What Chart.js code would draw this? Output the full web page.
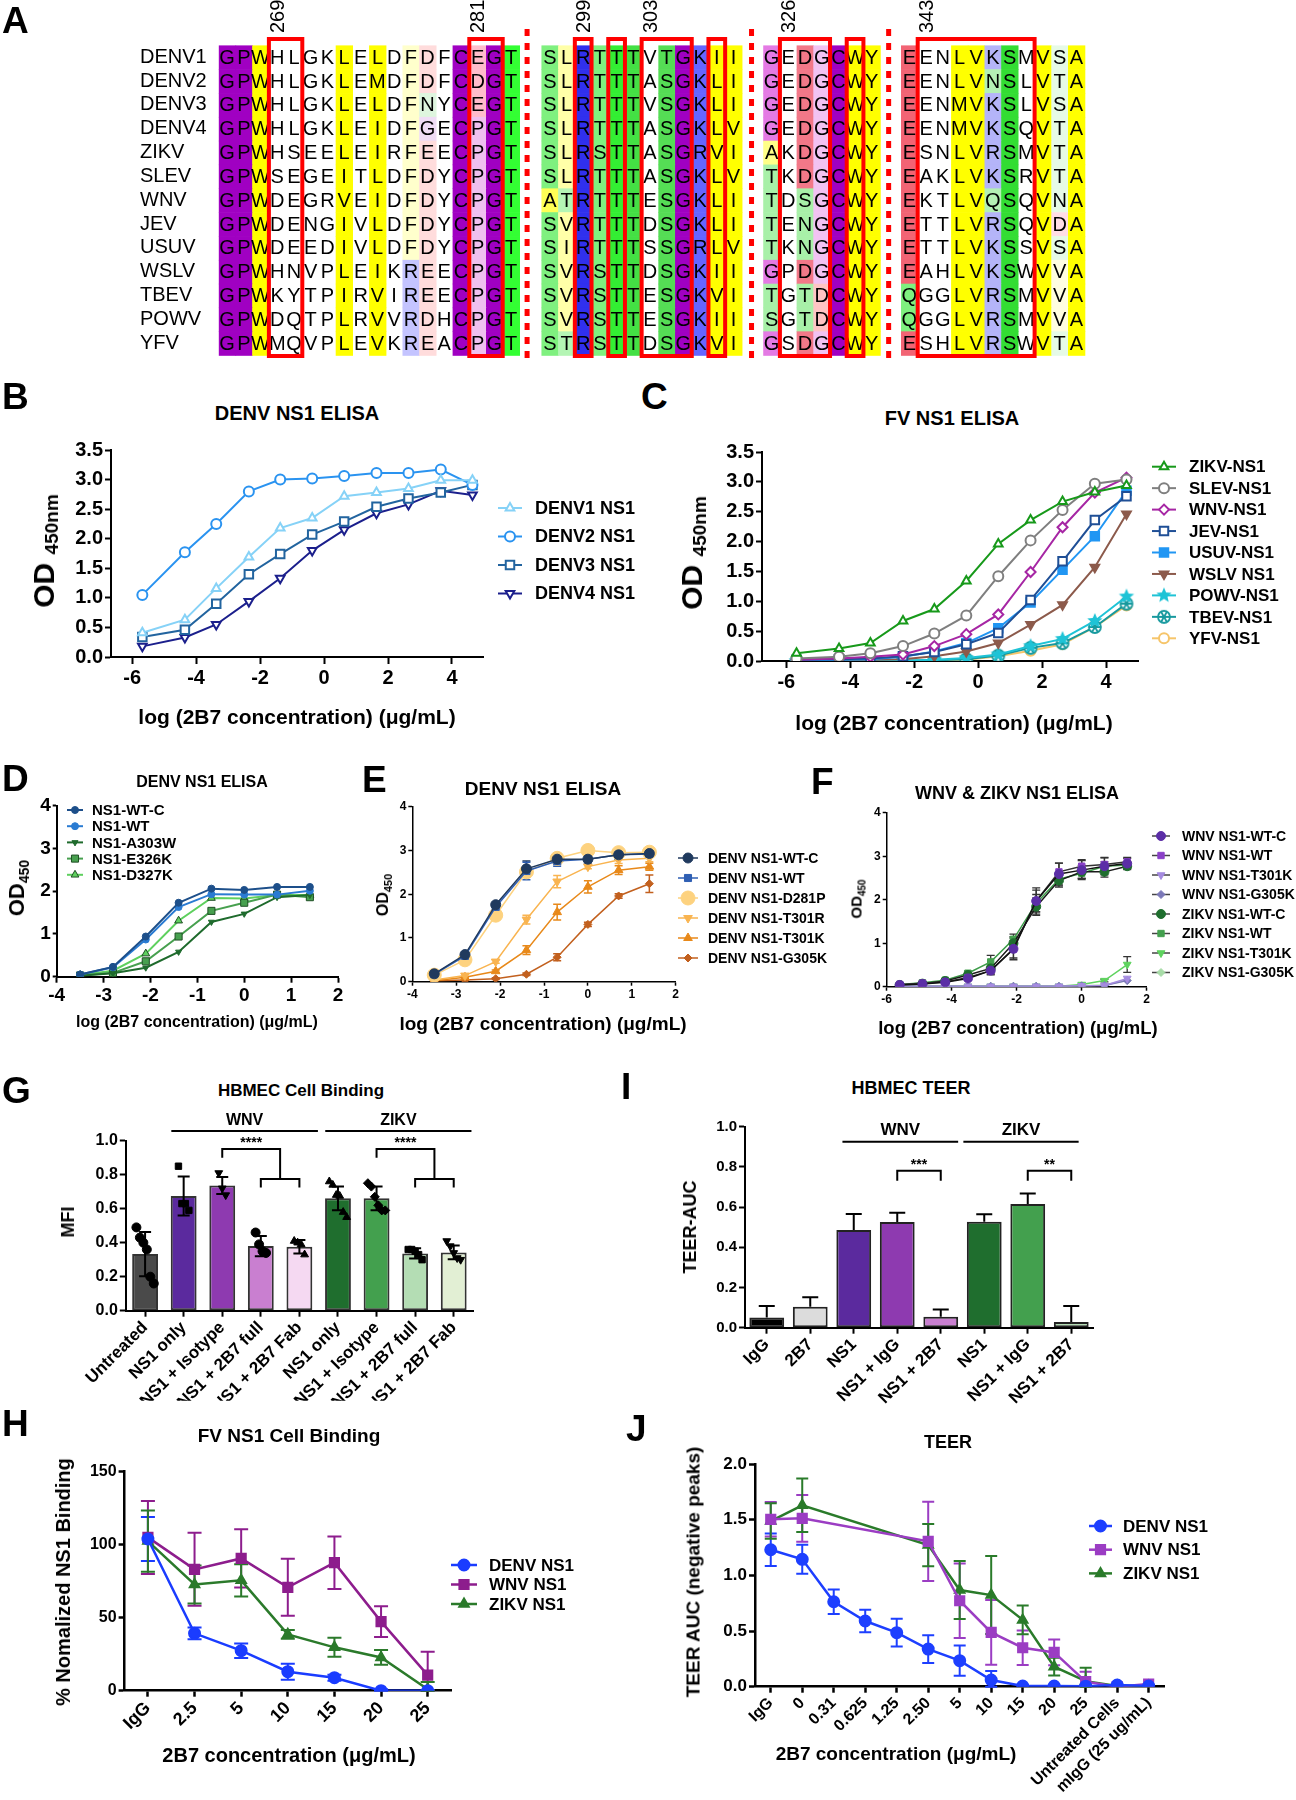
<!DOCTYPE html>
<html lang="en">
<head>
<meta charset="UTF-8">
<title>2B7 NS1 binding figure</title>
<script src="https://cdn.jsdelivr.net/npm/chart.js"></script>
<style>
  body { margin: 0; background: #fff; font-family: "Liberation Sans", Arial, sans-serif; }
  #page { position: relative; width: 1296px; height: 1800px; overflow: hidden; background: #fff; }
  canvas { position: absolute; }
  .t { position: absolute; white-space: nowrap; font-weight: bold; color: #000; line-height: 1; transform: translate(-50%, -50%); }
  .t.rot { transform: translate(-50%, -50%) rotate(-90deg); }
  .letter { position: absolute; font-size: 37px; font-weight: bold; line-height: 1; }
</style>
</head>
<body>
<div id="page"></div>
<script>
// ---------- A: alignment ----------
const alignNames = ['DENV1', 'DENV2', 'DENV3', 'DENV4', 'ZIKV', 'SLEV', 'WNV', 'JEV', 'USUV', 'WSLV', 'TBEV', 'POWV', 'YFV'];
const alignBlock1 = ['GPWHLGKLELDFDFCEGT', 'GPWHLGKLEMDFDFCDGT', 'GPWHLGKLELDFNYCEGT', 'GPWHLGKLEIDFGECPGT', 'GPWHSEELEIRFEECPGT',
  'GPWSEGEITLDFDYCPGT', 'GPWDEGRVEIDFDYCPGT', 'GPWDENGIVLDFDYCPGT', 'GPWDEEDIVLDFDYCPGT', 'GPWHNVPLEIKREECPGT',
  'GPWKYTPIRVIREECPGT', 'GPWDQTPLRVVRDHCPGT', 'GPWMQVPLEVKREACPGT'];
const alignBlock2 = ['SLRTTTVTGKII', 'SLRTTTASGKLI', 'SLRTTTVSGKLI', 'SLRTTTASGKLV', 'SLRSTTASGRVI', 'SLRTTTASGKLV',
  'ATRTTTESGKLI', 'SVRTTTDSGKLI', 'SIRTTTSSGRLV', 'SVRSTTDSGKII', 'SVRSTTESGKVI', 'SVRSTTESGKII', 'STRSTTDSGKVI'];
const alignBlock3 = ['GEDGCWY', 'GEDGCWY', 'GEDGCWY', 'GEDGCWY', 'AKDGCWY', 'TKDGCWY', 'TDSGCWY', 'TENGCWY', 'TKNGCWY',
  'GPDGCWY', 'TGTDCWY', 'SGTDCWY', 'GSDGCWY'];
const alignBlock4 = ['EENLVKSMVSA', 'EENLVNSLVTA', 'EENMVKSLVSA', 'EENMVKSQVTA', 'ESNLVRSMVTA', 'EAKLVKSRVTA', 'EKTLVQSQVNA',
  'ETTLVRSQVDA', 'ETTLVKSSVSA', 'EAHLVKSWVVA', 'QGGLVRSMVVA', 'QGGLVRSMVVA', 'ESHLVRSWVTA'];
const alignPositions = [269, 281, 299, 303, 326, 343];

// ---------- B / C: ELISA, log concentration ----------
const concLog = [-5.68, -4.35, -3.37, -2.35, -1.37, -0.37, 0.63, 1.64, 2.64, 3.65, 4.64];
const bDENV1 = [0.41, 0.63, 1.16, 1.69, 2.18, 2.35, 2.72, 2.78, 2.85, 2.99, 2.99];
const bDENV2 = [1.05, 1.77, 2.25, 2.80, 3.00, 3.02, 3.06, 3.11, 3.11, 3.17, 2.91];
const bDENV3 = [0.34, 0.46, 0.90, 1.40, 1.74, 2.07, 2.29, 2.54, 2.68, 2.78, 2.91];
const bDENV4 = [0.18, 0.33, 0.55, 0.94, 1.33, 1.80, 2.15, 2.43, 2.58, 2.81, 2.74];
const cZIKV = [0.13, 0.21, 0.30, 0.67, 0.87, 1.34, 1.96, 2.36, 2.67, 2.83, 2.94];
const cSLEV = [0.04, 0.07, 0.13, 0.25, 0.46, 0.76, 1.42, 2.02, 2.53, 2.97, 3.04];
const cWNV = [0.02, 0.04, 0.07, 0.11, 0.25, 0.45, 0.78, 1.49, 2.24, 2.82, 3.07];
const cJEV = [0.02, 0.03, 0.04, 0.08, 0.15, 0.28, 0.47, 1.02, 1.67, 2.36, 2.76];
const cUSUV = [0.01, 0.02, 0.03, 0.07, 0.16, 0.30, 0.55, 0.98, 1.53, 2.09, 2.85];
const cWSLV = [0.01, 0.02, 0.02, 0.03, 0.08, 0.16, 0.30, 0.61, 0.94, 1.57, 2.46];
const cPOWV = [0.00, 0.00, 0.00, 0.01, 0.02, 0.05, 0.11, 0.25, 0.37, 0.67, 1.08];
const cTBEV = [0.00, 0.00, 0.00, 0.00, 0.01, 0.03, 0.09, 0.22, 0.30, 0.57, 0.96];
const cYFV = [0.00, 0.00, 0.00, 0.00, 0.01, 0.02, 0.08, 0.17, 0.28, 0.57, 0.93];

// ---------- D / E: DENV mutants ----------
const mutLog = [-3.5, -2.8, -2.1, -1.4, -0.7, 0, 0.7, 1.4];
const dWTC = [0.05, 0.23, 0.94, 1.73, 2.06, 2.03, 2.10, 2.10];
const dWT = [0.05, 0.22, 0.87, 1.63, 1.93, 1.92, 1.92, 2.01];
const dA303W = [0.02, 0.08, 0.21, 0.58, 1.28, 1.47, 1.86, 1.91];
const dE326K = [0.03, 0.09, 0.36, 0.94, 1.54, 1.73, 1.92, 1.86];
const dD327K = [0.04, 0.14, 0.54, 1.31, 1.84, 1.83, 1.91, 1.91];
const eWTC = [0.18, 0.62, 1.76, 2.58, 2.80, 2.80, 2.90, 2.93];
const eWT = [0.17, 0.59, 1.71, 2.53, 2.76, 2.80, 2.90, 2.92];
const eD281P = [0.15, 0.50, 1.52, 2.51, 2.82, 3.00, 2.95, 2.96];
const eT301R = [0.04, 0.14, 0.46, 1.42, 2.29, 2.63, 2.78, 2.82];
const eT301K = [0.02, 0.10, 0.24, 0.72, 1.59, 2.17, 2.55, 2.63];
const eG305K = [0.02, 0.04, 0.07, 0.17, 0.56, 1.31, 1.96, 2.24];
const eWTCErr = [0.02, 0.05, 0.05, 0.18, 0.12, 0.10, 0.10, 0.05];
const eWTErr = [0.02, 0.05, 0.06, 0.20, 0.12, 0.10, 0.10, 0.05];
const eD281PErr = [0.02, 0.05, 0.05, 0.10, 0.08, 0.05, 0.10, 0.08];
const eT301RErr = [0.01, 0.03, 0.04, 0.10, 0.14, 0.05, 0.08, 0.08];
const eT301KErr = [0.01, 0.02, 0.03, 0.10, 0.18, 0.14, 0.10, 0.08];
const eG305KErr = [0.01, 0.01, 0.02, 0.03, 0.08, 0.05, 0.05, 0.20];

// ---------- F: WNV & ZIKV mutants ----------
const fLog = [-5.6, -4.9, -4.2, -3.5, -2.8, -2.1, -1.4, -0.7, 0, 0.7, 1.4];
const fWnvWTC = [0.04, 0.06, 0.10, 0.19, 0.37, 0.87, 1.97, 2.59, 2.68, 2.77, 2.83];
const fWnvWT = [0.05, 0.08, 0.11, 0.21, 0.37, 0.86, 1.97, 2.64, 2.77, 2.81, 2.87];
const fWnvT301K = [0.01, 0.01, 0.01, 0.01, 0.01, 0.01, 0.01, 0.01, 0.02, 0.03, 0.19];
const fWnvG305K = [0.01, 0.01, 0.01, 0.01, 0.01, 0.01, 0.01, 0.01, 0.02, 0.03, 0.14];
const fZikvWTC = [0.04, 0.07, 0.13, 0.27, 0.42, 1.00, 1.84, 2.44, 2.64, 2.64, 2.77];
const fZikvWT = [0.05, 0.09, 0.15, 0.31, 0.57, 1.09, 1.92, 2.47, 2.61, 2.77, 2.80];
const fZikvT301K = [0.01, 0.01, 0.01, 0.01, 0.01, 0.01, 0.01, 0.01, 0.05, 0.14, 0.51];
const fZikvG305K = [0.01, 0.01, 0.01, 0.01, 0.01, 0.01, 0.01, 0.01, 0.02, 0.04, 0.15];
const fWnvWTCErr = [0.02, 0.02, 0.03, 0.05, 0.10, 0.25, 0.30, 0.25, 0.22, 0.20, 0.12];
const fWnvWTErr = [0.02, 0.02, 0.03, 0.05, 0.08, 0.20, 0.25, 0.20, 0.15, 0.15, 0.10];
const fZikvWTCErr = [0.02, 0.03, 0.03, 0.05, 0.10, 0.15, 0.20, 0.15, 0.15, 0.12, 0.08];
const fZikvWTErr = [0.02, 0.03, 0.03, 0.05, 0.15, 0.12, 0.20, 0.15, 0.12, 0.10, 0.08];
const fZikvT301KErr = [0, 0, 0, 0, 0, 0, 0, 0, 0.02, 0.03, 0.18];

// ---------- G: HBMEC cell binding ----------
const gLabels = ['Untreated', 'NS1 only', 'NS1 + Isotype', 'NS1 + 2B7 full', 'NS1 + 2B7 Fab', 'NS1 only', 'NS1 + Isotype', 'NS1 + 2B7 full', 'NS1 + 2B7 Fab'];
const gMean = [0.333, 0.675, 0.737, 0.380, 0.376, 0.661, 0.661, 0.337, 0.343];
const gSD = [0.13, 0.115, 0.05, 0.06, 0.04, 0.07, 0.07, 0.03, 0.04];
const gPoints = [[0.49, 0.43, 0.40, 0.36, 0.20, 0.16], [0.85, 0.63, 0.63, 0.59], [0.81, 0.72, 0.68], [0.46, 0.39, 0.35, 0.34],
  [0.41, 0.40, 0.39, 0.33], [0.76, 0.74, 0.68, 0.675, 0.58, 0.55], [0.75, 0.73, 0.67, 0.62, 0.59, 0.59],
  [0.36, 0.36, 0.35, 0.33, 0.30], [0.41, 0.38, 0.34, 0.31, 0.30]];

// ---------- I: HBMEC TEER ----------
const iLabels = ['IgG', '2B7', 'NS1', 'NS1 + IgG', 'NS1 + 2B7', 'NS1', 'NS1 + IgG', 'NS1 + 2B7'];
const iMean = [0.051, 0.104, 0.486, 0.526, 0.055, 0.527, 0.615, 0.028];
const iErr = [0.057, 0.047, 0.080, 0.046, 0.036, 0.037, 0.053, 0.080];

// ---------- H: FV NS1 cell binding ----------
const hLabels = ['IgG', '2.5', '5', '10', '15', '20', '25'];
const hDENV = [103.9, 39.3, 27.4, 13.0, 8.9, 0, 0];
const hWNV = [105.0, 83.1, 90.6, 70.8, 87.7, 47.3, 10.7];
const hZIKV = [102.5, 72.8, 75.6, 38.6, 29.7, 22.8, 1.0];
const hDENVErr = [15, 4, 5, 5.5, 2, 1, 0.5];
const hWNVErr = [25, 25, 20, 19.5, 18, 10.5, 16];
const hZIKVErr = [21, 13, 11, 3, 6.5, 5, 5];

// ---------- J: TEER ----------
const jLabels = ['IgG', '0', '0.31', '0.625', '1.25', '2.50', '5', '10', '15', '20', '25', 'Untreated Cells', 'mIgG (25 ug/mL)'];
const jDENV = [1.23, 1.144, 0.763, 0.59, 0.485, 0.338, 0.234, 0.06, 0.006, 0.006, 0.005, 0.015, 0.006];
const jWNV = [1.503, 1.512, null, null, null, 1.305, 0.772, 0.488, 0.35, 0.308, 0.045, 0.0, 0.024];
const jZIKV = [1.488, 1.629, null, null, null, 1.272, 0.868, 0.823, 0.60, 0.18, 0.05, 0.006, 0.006];
const jDENVErr = [0.145, 0.13, 0.11, 0.10, 0.125, 0.125, 0.135, 0.08, 0, 0, 0, 0, 0];
const jWNVErr = [0.155, 0.21, 0, 0, 0, 0.355, 0.335, 0.29, 0.155, 0.115, 0.09, 0, 0];
const jZIKVErr = [0.16, 0.24, 0, 0, 0, 0.19, 0.26, 0.35, 0.13, 0.08, 0.12, 0, 0];

// ================= drawing =================
const page = document.getElementById('page');
const FAM = '"Liberation Sans", Arial, sans-serif';
Chart.defaults.font.family = FAM;
Chart.defaults.font.weight = 'bold';
Chart.defaults.color = '#000';
const font = (size, weight) => ({ size, weight: weight || 'bold', family: FAM });

function txt(x, y, html, size, rot) {
  const d = document.createElement('div');
  d.className = 't' + (rot ? ' rot' : '');
  d.style.left = x + 'px'; d.style.top = y + 'px'; d.style.fontSize = size + 'px';
  d.innerHTML = html;
  page.appendChild(d);
}
function letter(ch, x, y) {
  const d = document.createElement('div');
  d.className = 'letter'; d.style.left = x + 'px'; d.style.top = y + 'px'; d.textContent = ch;
  page.appendChild(d);
}

function mk(box, area, yW, xH, cfg) {
  const c = document.createElement('canvas');
  c.width = box[2]; c.height = box[3];
  c.style.left = box[0] + 'px'; c.style.top = box[1] + 'px';
  page.appendChild(c);
  const o = cfg.options;
  o.responsive = false; o.animation = false; o.devicePixelRatio = 1;
  o.layout = { padding: { left: area[0] - box[0] - yW, top: area[1] - box[1], right: box[0] + box[2] - area[2], bottom: box[1] + box[3] - area[3] - xH } };
  o.plugins = Object.assign({ legend: { display: false }, tooltip: { enabled: false } }, o.plugins || {});
  if (o.scales.x.display !== false) o.scales.x.afterFit = s => { s.height = xH; };
  o.scales.y.afterFit = s => { s.width = yW; };
  return new Chart(c, cfg);
}

// marker drawing shared by legends
function marker(ctx, ds, x, y) {
  ctx.fillStyle = ds.pointBackgroundColor;
  ctx.strokeStyle = ds.pointBorderColor;
  ctx.lineWidth = ds.pointBorderWidth;
  Chart.helpers.drawPoint(ctx, { pointStyle: ds.pointStyle, radius: ds.pointRadius, rotation: ds.pointRotation || 0, borderWidth: ds.pointBorderWidth }, x, y);
}

const lineLegend = {
  id: 'lineLegend',
  afterDraw(chart, args, o) {
    if (o.y0 === undefined) return;
    const ctx = chart.ctx, ox = chart.canvas.offsetLeft, oy = chart.canvas.offsetTop;
    ctx.save();
    ctx.textBaseline = 'middle'; ctx.textAlign = 'left';
    chart.data.datasets.forEach((ds, i) => {
      const y = o.y0 + i * o.dy - oy;
      ctx.strokeStyle = ds.legendLine || ds.borderColor; ctx.lineWidth = ds.borderWidth;
      ctx.beginPath(); ctx.moveTo(o.x0 - ox, y); ctx.lineTo(o.x1 - ox, y); ctx.stroke();
      marker(ctx, ds, (o.x0 + o.x1) / 2 - ox, y);
      ctx.fillStyle = '#000';
      ctx.font = 'bold ' + o.size + 'px ' + FAM;
      ctx.fillText(ds.label, o.xt - ox, y + 1);
    });
    ctx.restore();
  }
};

function drawErr(chart, meta) {
  const ds = chart.data.datasets[meta.index];
  const err = ds.errors, up = ds.errUp;
  if (!err && !up) return;
  const ys = chart.scales[meta.yAxisID], ctx = chart.ctx, cap = ds.capW || 5;
  ctx.save();
  ctx.strokeStyle = ds.errColor || ds.borderColor; ctx.lineWidth = ds.errWidth || 1.8;
  meta.data.forEach((el, i) => {
    const raw = ds.data[i];
    if (raw === null || raw === undefined) return;
    const v = typeof raw === 'object' ? raw.y : raw;
    const e = err ? err[i] : up[i];
    if (!e) return;
    const yt = ys.getPixelForValue(v + e);
    const yb = err ? ys.getPixelForValue(Math.max(v - e, ys.min)) : ys.getPixelForValue(v);
    ctx.beginPath();
    ctx.moveTo(el.x, yt); ctx.lineTo(el.x, yb);
    ctx.moveTo(el.x - cap, yt); ctx.lineTo(el.x + cap, yt);
    if (err) { ctx.moveTo(el.x - cap, yb); ctx.lineTo(el.x + cap, yb); }
    ctx.stroke();
  });
  ctx.restore();
}
const errorBars = {
  id: 'errorBars',
  beforeDatasetsDraw(chart) {
    chart.getSortedVisibleDatasetMetas().forEach(m => { if (m.type === 'line') drawErr(chart, m); });
  },
  afterDatasetDraw(chart, args) {
    if (args.meta.type === 'bar') drawErr(chart, args.meta);
  }
};

const brackets = {
  id: 'brackets',
  afterDraw(chart, args, o) {
    const xs = chart.scales.x, ys = chart.scales.y, ctx = chart.ctx;
    const X = v => xs.getPixelForValue(v), Y = v => ys.getPixelForValue(v);
    ctx.save();
    ctx.strokeStyle = '#000'; ctx.fillStyle = '#000'; ctx.lineWidth = 2;
    ctx.textAlign = 'center'; ctx.textBaseline = 'middle';
    (o.groups || []).forEach(g => {
      ctx.beginPath(); ctx.moveTo(X(g.x0), Y(g.y)); ctx.lineTo(X(g.x1), Y(g.y)); ctx.stroke();
      ctx.font = 'bold ' + o.gsize + 'px ' + FAM;
      ctx.fillText(g.text, X((g.x0 + g.x1) / 2), Y(g.ty));
    });
    (o.sig || []).forEach(s => {
      ctx.beginPath();
      if (s.b.length === 2) {
        const m = (s.b[0] + s.b[1]) / 2;
        ctx.moveTo(X(s.a), Y(s.drop)); ctx.lineTo(X(s.a), Y(s.top)); ctx.lineTo(X(m), Y(s.top)); ctx.lineTo(X(m), Y(s.mid));
        ctx.moveTo(X(s.b[0]), Y(s.drop2)); ctx.lineTo(X(s.b[0]), Y(s.mid)); ctx.lineTo(X(s.b[1]), Y(s.mid)); ctx.lineTo(X(s.b[1]), Y(s.drop2));
      } else {
        ctx.moveTo(X(s.a), Y(s.drop)); ctx.lineTo(X(s.a), Y(s.top)); ctx.lineTo(X(s.b[0]), Y(s.top)); ctx.lineTo(X(s.b[0]), Y(s.drop));
      }
      ctx.stroke();
      ctx.font = 'bold ' + o.ssize + 'px ' + FAM;
      ctx.fillText(s.text, X(s.tx), Y(s.ty));
    });
    ctx.restore();
  }
};

function axisBase(size, tickLen, width) {
  return {
    border: { display: true, color: '#000', width: width },
    grid: { display: true, offset: false, drawOnChartArea: false, drawTicks: true, tickLength: tickLen, tickWidth: width, tickColor: '#000' },
    ticks: { font: font(size), color: '#000', padding: 2 }
  };
}
function numX(min, max, vals, size, tickLen, width) {
  return Object.assign(axisBase(size, tickLen, width), { type: 'linear', min, max, afterBuildTicks: s => { s.ticks = vals.map(v => ({ value: v })); } });
}
function numY(min, max, step, digits, size, tickLen, width) {
  const a = axisBase(size, tickLen, width);
  a.ticks.stepSize = step;
  a.ticks.callback = v => Number(v).toFixed(digits);
  return Object.assign(a, { type: 'linear', min, max });
}
function catX(labels, size, tickLen, width) {
  const a = axisBase(size, tickLen, width);
  a.ticks.maxRotation = 45; a.ticks.minRotation = 45; a.ticks.autoSkip = false; a.ticks.padding = 1;
  return Object.assign(a, { type: 'category', labels, offset: true });
}
// index axis that is numeric, so bars and jittered dots share one scale
function idxX(labels, size, tickLen, width) {
  const a = catX(labels, size, tickLen, width);
  delete a.labels;
  a.type = 'linear'; a.offset = false; a.min = -0.5; a.max = labels.length - 0.5;
  a.afterBuildTicks = s => { s.ticks = labels.map((l, i) => ({ value: i })); };
  a.ticks.callback = v => labels[Math.round(v)];
  return a;
}
function ser(label, xs, ys, color, style, extra) {
  return Object.assign({
    label, data: xs ? xs.map((x, i) => ({ x, y: ys[i] })) : ys,
    borderColor: color, backgroundColor: color, borderWidth: 2, tension: 0, fill: false,
    pointStyle: style, pointRadius: 5, pointBorderWidth: 2, pointBackgroundColor: color, pointBorderColor: color
  }, extra || {});
}
const open = { pointBackgroundColor: '#fff' };

function starImage(color, r) {
  const c = document.createElement('canvas'); c.width = c.height = 2 * r + 2;
  const g = c.getContext('2d'); g.fillStyle = color; g.beginPath();
  for (let k = 0; k < 10; k++) {
    const rr = k % 2 ? r * 0.45 : r, a = -Math.PI / 2 + k * Math.PI / 5;
    g.lineTo(r + 1 + rr * Math.cos(a), r + 1 + rr * Math.sin(a));
  }
  g.closePath(); g.fill(); return c;
}
function crossCircleImage(color, r) {
  const c = document.createElement('canvas'); c.width = c.height = 2 * r + 4;
  const g = c.getContext('2d'); const m = r + 2; g.strokeStyle = color; g.lineWidth = 1.8;
  g.fillStyle = '#fff'; g.beginPath(); g.arc(m, m, r, 0, 2 * Math.PI); g.fill(); g.stroke();
  g.beginPath();
  for (let k = 0; k < 3; k++) { const a = k * Math.PI / 3; g.moveTo(m + r * Math.cos(a), m + r * Math.sin(a)); g.lineTo(m - r * Math.cos(a), m - r * Math.sin(a)); }
  g.stroke(); return c;
}

// ---------- Panel A ----------
const PUR = '#a000c2', YEL = '#ffff00';
const blockStart = [0, 19.32, 32.6, 40.85];
const blockColors = [
  [{ '*': PUR }, { '*': PUR }, { '*': YEL }, {}, {}, {}, {}, { '*': YEL }, {}, { '*': YEL }, {},
   { F: '#ffffcc', R: '#c4c4ff' }, { D: '#ffdcdc', E: '#ffdcdc', N: '#def5de', G: '#efdcf5' }, {}, { '*': PUR },
   { E: '#ffbccb', D: '#ffbccb', P: '#efc0ef' }, { '*': PUR }, { '*': '#33ff33' }],
  [{ S: '#7ff07f', A: '#ffff55' }, { L: '#ffffa8', I: '#ffffa8', V: '#ffffa8', T: '#b4f5b4' }, { '*': '#3030ee' }, { '*': '#7ff07f' },
   { '*': '#33ee33' }, { '*': '#44e044' }, {}, { '*': '#55dd55' }, { '*': PUR }, { '*': '#6565ff' }, { '*': YEL }, { '*': YEL }],
  [{ G: '#e47ae4', A: '#ffff88', T: '#a8f0a8', S: '#a8f0a8' }, {}, { D: '#f27888', S: '#a8f0a8', N: '#a8f0a8', T: '#a8f0a8' },
   { G: '#f2c2f2', D: '#ffc4c4' }, { '*': PUR }, { '*': YEL }, { '*': YEL }],
  [{ E: '#f26474', Q: '#7ff07f' }, {}, {}, { '*': YEL }, { '*': YEL }, { K: '#b4b4f8', R: '#b4b4f8', N: '#b4f0b4', Q: '#b4f0b4' },
   { '*': '#33dd33' }, {}, { '*': YEL }, { S: '#e6fae6', T: '#e6fae6', N: '#e6fae6', D: '#ffdde6', V: '#fffde0' }, { '*': YEL }]
];
const redBoxes = [[0, 3, 4], [0, 15, 16], [1, 2, 2], [1, 4, 4], [1, 6, 8], [1, 10, 10], [2, 1, 3], [2, 5, 5], [3, 1, 7]];
const labelCols = [[0, 3], [0, 15], [1, 2], [1, 6], [2, 1], [3, 1]];
const dotted = [18.46, 31.9, 40.11];

const alignPlugin = {
  id: 'alignment',
  afterDraw(chart) {
    const xs = chart.scales.x, ys = chart.scales.y, ctx = chart.ctx;
    const half = Math.abs(ys.getPixelForValue(1) - ys.getPixelForValue(0)) / 2;
    const blocks = [alignBlock1, alignBlock2, alignBlock3, alignBlock4];
    ctx.save();
    blocks.forEach((block, b) => block.forEach((seq, r) => {
      const yc = ys.getPixelForValue(r);
      for (let c = 0; c < seq.length; c++) {
        const x0 = xs.getPixelForValue(blockStart[b] + c), x1 = xs.getPixelForValue(blockStart[b] + c + 1);
        const rule = blockColors[b][c], col = rule[seq[c]] || rule['*'];
        if (col) { ctx.fillStyle = col; ctx.fillRect(x0, yc - half, x1 - x0 + 0.6, 2 * half + 0.6); }
      }
    }));
    ctx.fillStyle = '#000'; ctx.font = '20px ' + FAM; ctx.textAlign = 'center'; ctx.textBaseline = 'middle';
    blocks.forEach((block, b) => block.forEach((seq, r) => {
      const yc = ys.getPixelForValue(r);
      for (let c = 0; c < seq.length; c++) ctx.fillText(seq[c], xs.getPixelForValue(blockStart[b] + c + 0.5), yc + 1);
    }));
    ctx.strokeStyle = '#ff0000'; ctx.lineWidth = 4;
    redBoxes.forEach(([b, c0, c1]) => {
      const x0 = xs.getPixelForValue(blockStart[b] + c0), x1 = xs.getPixelForValue(blockStart[b] + c1 + 1);
      ctx.strokeRect(x0, 39, x1 - x0, 317);
    });
    ctx.lineWidth = 5; ctx.setLineDash([7, 7]);
    dotted.forEach(u => { const x = xs.getPixelForValue(u); ctx.beginPath(); ctx.moveTo(x, 29); ctx.lineTo(x, 362); ctx.stroke(); });
    ctx.setLineDash([]);
    ctx.fillStyle = '#000'; ctx.font = '20px ' + FAM; ctx.textAlign = 'left';
    labelCols.forEach(([b, c], k) => {
      ctx.save(); ctx.translate(xs.getPixelForValue(blockStart[b] + c + 0.5) + 1, 33); ctx.rotate(-Math.PI / 2);
      ctx.fillText(String(alignPositions[k]), 0, 0); ctx.restore();
    });
    ctx.restore();
  }
};
mk([0, 0, 1100, 372], [218.8, 45.4, 1084.7, 355.2], 78.8, 0, {
  type: 'scatter', data: { datasets: [] }, plugins: [alignPlugin],
  options: { scales: {
    x: { type: 'linear', min: 0, max: 51.85, display: false },
    y: { type: 'category', labels: alignNames, offset: true, border: { display: false }, grid: { display: false },
         ticks: { font: font(20, 'normal'), color: '#000', crossAlign: 'far', padding: 0, autoSkip: false } }
  } }
});
letter('A', 2, 2);

// ---------- Panel B ----------
mk([0, 430, 660, 300], [111, 450, 483, 657], 60, 40, {
  type: 'line',
  data: { datasets: [
    ser('DENV1 NS1', concLog, bDENV1, '#86d2f7', 'triangle', open),
    ser('DENV2 NS1', concLog, bDENV2, '#2a93f0', 'circle', open),
    ser('DENV3 NS1', concLog, bDENV3, '#22649f', 'rect', Object.assign({ pointRadius: 6 }, open)),
    ser('DENV4 NS1', concLog, bDENV4, '#1b1f8c', 'triangle', Object.assign({ pointRotation: 180 }, open))
  ] },
  plugins: [lineLegend],
  options: {
    scales: { x: numX(-6.66, 4.97, [-6, -4, -2, 0, 2, 4], 20, 7, 2), y: numY(0, 3.5, 0.5, 1, 20, 6, 2) },
    plugins: { lineLegend: { x0: 498, x1: 522, xt: 535, y0: 508, dy: 28.5, size: 18 } }
  }
});
letter('B', 2, 378);
txt(297, 413, 'DENV NS1 ELISA', 20);
txt(297, 716, 'log (2B7 concentration) (μg/mL)', 21);
txt(44, 551, '<span style="font-size:30px">OD</span> <span style="font-size:19px;position:relative;top:4px">450nm</span>', 30, true);

// ---------- Panel C ----------
mk([660, 430, 636, 300], [762, 452, 1138, 661], 60, 40, {
  type: 'line',
  data: { datasets: [
    ser('ZIKV-NS1', concLog, cZIKV, '#17991a', 'triangle', open),
    ser('SLEV-NS1', concLog, cSLEV, '#7f7f7f', 'circle', open),
    ser('WNV-NS1', concLog, cWNV, '#a626a4', 'rectRot', open),
    ser('JEV-NS1', concLog, cJEV, '#1f4f96', 'rect', Object.assign({ pointRadius: 6 }, open)),
    ser('USUV-NS1', concLog, cUSUV, '#2196f3', 'rect', { pointRadius: 6 }),
    ser('WSLV NS1', concLog, cWSLV, '#8c5a4b', 'triangle', { pointRotation: 180 }),
    ser('POWV-NS1', concLog, cPOWV, '#1ec3d6', starImage('#1ec3d6', 8)),
    ser('TBEV-NS1', concLog, cTBEV, '#17999e', crossCircleImage('#17999e', 6)),
    ser('YFV-NS1', concLog, cYFV, '#f6c56a', 'circle', open)
  ] },
  plugins: [lineLegend],
  options: {
    scales: { x: numX(-6.76, 5.0, [-6, -4, -2, 0, 2, 4], 20, 7, 2), y: numY(0, 3.5, 0.5, 1, 20, 6, 2) },
    plugins: { lineLegend: { x0: 1152, x1: 1176, xt: 1189, y0: 466.7, dy: 21.45, size: 17 } }
  }
});
letter('C', 641, 378);
txt(952, 418, 'FV NS1 ELISA', 20);
txt(954, 722, 'log (2B7 concentration) (μg/mL)', 21);
txt(692, 553, '<span style="font-size:30px">OD</span> <span style="font-size:19px;position:relative;top:4px">450nm</span>', 30, true);

// ---------- Panel D ----------
const dSmall = { pointRadius: 3.5, pointBorderWidth: 1 };
mk([0, 790, 370, 260], [56.7, 805.7, 338, 976.7], 45, 30, {
  type: 'line',
  data: { datasets: [
    ser('NS1-WT-C', mutLog, dWTC, '#1d4f8a', 'circle', dSmall),
    ser('NS1-WT', mutLog, dWT, '#2a7bd2', 'circle', dSmall),
    ser('NS1-A303W', mutLog, dA303W, '#1f6b2d', 'triangle', Object.assign({ pointRotation: 180 }, dSmall)),
    ser('NS1-E326K', mutLog, dE326K, '#47a04f', 'rect', { pointRadius: 5, pointBorderWidth: 1, pointBorderColor: '#1f4f25' }),
    ser('NS1-D327K', mutLog, dD327K, '#5ed05e', 'triangle', { pointRadius: 4.5, pointBorderWidth: 1, pointBorderColor: '#1f4f25' })
  ] },
  plugins: [lineLegend],
  options: {
    scales: { x: numX(-4, 2, [-4, -3, -2, -1, 0, 1, 2], 19, 6, 2), y: numY(0, 4, 1, 0, 19, 4, 2) },
    plugins: { lineLegend: { x0: 67, x1: 83, xt: 92, y0: 810, dy: 16.2, size: 15 } }
  }
});
letter('D', 2, 760);
txt(202, 782, 'DENV NS1 ELISA', 16);
txt(197, 1022, 'log (2B7 concentration) (μg/mL)', 16);
txt(17, 888, 'OD<span style="font-size:14px;position:relative;top:5px">450</span>', 22, true);

// ---------- Panel E ----------
const eOpt = (err, extra) => Object.assign({ errors: err, capW: 4, errWidth: 1.5, pointRadius: 5, pointBorderWidth: 1, borderWidth: 1.5 }, extra || {});
mk([370, 795, 460, 255], [412.3, 806.7, 675.7, 981.7], 30, 25, {
  type: 'line',
  data: { datasets: [
    ser('DENV NS1-WT-C', mutLog, eWTC, '#203a5e', 'circle', eOpt(eWTCErr)),
    ser('DENV NS1-WT', mutLog, eWT, '#2f5fb3', 'rect', eOpt(eWTErr)),
    ser('DENV NS1-D281P', mutLog, eD281P, '#fdd27f', 'circle', eOpt(eD281PErr, { pointRadius: 7 })),
    ser('DENV NS1-T301R', mutLog, eT301R, '#f9b450', 'triangle', eOpt(eT301RErr, { pointRotation: 180 })),
    ser('DENV NS1-T301K', mutLog, eT301K, '#e8891a', 'triangle', eOpt(eT301KErr)),
    ser('DENV NS1-G305K', mutLog, eG305K, '#c2601e', 'rectRot', eOpt(eG305KErr, { pointRadius: 4 }))
  ] },
  plugins: [errorBars, lineLegend],
  options: {
    scales: { x: numX(-4, 2, [-4, -3, -2, -1, 0, 1, 2], 12, 4, 1.5), y: numY(0, 4, 1, 0, 12, 4, 1.5) },
    plugins: { lineLegend: { x0: 678, x1: 698, xt: 708, y0: 858, dy: 20, size: 14 } }
  }
});
letter('E', 362, 761);
txt(543, 788, 'DENV NS1 ELISA', 19);
txt(543, 1023, 'log (2B7 concentration) (μg/mL)', 19);
txt(383, 895, 'OD<span style="font-size:11px;position:relative;top:4px">450</span>', 16, true);

// ---------- Panel F ----------
const fOpt = (err, extra) => Object.assign({ errors: err, capW: 4, errWidth: 1.3, errColor: '#333', pointRadius: 4.5, pointBorderWidth: 1, borderWidth: 1.5, legendLine: '#444' }, extra || {});
mk([830, 795, 466, 255], [886.7, 812.7, 1146.7, 986.7], 30, 25, {
  type: 'line',
  data: { datasets: [
    ser('WNV NS1-WT-C', fLog, fWnvWTC, '#5b2ea6', 'circle', fOpt(fWnvWTCErr, { borderColor: '#111' })),
    ser('WNV NS1-WT', fLog, fWnvWT, '#8a40c8', 'rect', fOpt(fWnvWTErr, { borderColor: '#333' })),
    ser('WNV NS1-T301K', fLog, fWnvT301K, '#a58be0', 'triangle', fOpt(null, { pointRotation: 180 })),
    ser('WNV NS1-G305K', fLog, fWnvG305K, '#7b78b8', 'rectRot', fOpt(null, { pointRadius: 4 })),
    ser('ZIKV NS1-WT-C', fLog, fZikvWTC, '#1f6e2e', 'circle', fOpt(fZikvWTCErr, { borderColor: '#1a1a1a' })),
    ser('ZIKV NS1-WT', fLog, fZikvWT, '#43a04e', 'rect', fOpt(fZikvWTErr, { borderColor: '#3c9c48' })),
    ser('ZIKV NS1-T301K', fLog, fZikvT301K, '#5fd35f', 'triangle', fOpt(fZikvT301KErr, { pointRotation: 180 })),
    ser('ZIKV NS1-G305K', fLog, fZikvG305K, '#a8dca8', 'rectRot', fOpt(null, { pointRadius: 4 }))
  ] },
  plugins: [errorBars, lineLegend],
  options: {
    scales: { x: numX(-6, 2, [-6, -4, -2, 0, 2], 12, 4, 1.5), y: numY(0, 4, 1, 0, 12, 4, 1.5) },
    plugins: { lineLegend: { x0: 1152, x1: 1170, xt: 1182, y0: 836, dy: 19.5, size: 14 } }
  }
});
letter('F', 811, 763);
txt(1017, 793, 'WNV &amp; ZIKV NS1 ELISA', 18);
txt(1018, 1028, 'log (2B7 concentration) (μg/mL)', 18.5);
txt(856, 899, 'OD<span style="font-size:10px;position:relative;top:4px">450</span>', 15, true);

// ---------- Panel G ----------
const gColors = ['#4a4a4a', '#5b2a9e', '#8e3ab0', '#c97fd0', '#f5d9f2', '#1f6e2e', '#43a04e', '#b4ddb4', '#e2efd4'];
const gStyles = [['circle', 0], ['rect', 0], ['triangle', 180], ['circle', 0], ['triangle', 0], ['triangle', 0], ['rectRot', 0], ['rect', 0], ['triangle', 180]];
const gDots = [], gDotStyle = [], gDotRot = [];
gPoints.forEach((pts, i) => pts.forEach((v, k) => {
  gDots.push({ x: i + (k - (pts.length - 1) / 2) * 0.09, y: v });
  gDotStyle.push(gStyles[i][0]); gDotRot.push(gStyles[i][1]);
}));
mk([0, 1100, 640, 305], [125.8, 1140.7, 473, 1310.7], 60, 90, {
  type: 'bar',
  data: { datasets: [
    { type: 'scatter', data: gDots, pointStyle: gDotStyle, pointRotation: gDotRot, pointRadius: 4.5,
      backgroundColor: '#000', borderColor: '#000', order: 1 },
    { type: 'bar', data: gMean.map((y, i) => ({ x: i, y })), backgroundColor: gColors, borderColor: '#333', borderWidth: 2, borderSkipped: false,
      barPercentage: 0.67, categoryPercentage: 1, errors: gSD, errColor: '#000', capW: 6, errWidth: 2, order: 2 }
  ] },
  plugins: [errorBars, brackets],
  options: {
    scales: { x: idxX(gLabels, 17, 6, 2), y: numY(0, 1, 0.2, 1, 16, 6, 2) },
    plugins: { brackets: {
      gsize: 16, ssize: 14,
      groups: [{ x0: 0.68, x1: 4.48, y: 1.057, ty: 1.12, text: 'WNV' }, { x0: 4.67, x1: 8.46, y: 1.057, ty: 1.12, text: 'ZIKV' }],
      sig: [{ a: 2, b: [3, 4], top: 0.951, drop: 0.90, mid: 0.775, drop2: 0.724, text: '****', tx: 2.75, ty: 0.985 },
            { a: 6, b: [7, 8], top: 0.951, drop: 0.90, mid: 0.775, drop2: 0.724, text: '****', tx: 6.75, ty: 0.985 }]
    } }
  }
});
letter('G', 2, 1072);
txt(301, 1090, 'HBMEC Cell Binding', 17);
txt(68, 1222, 'MFI', 18, true);

// ---------- Panel I ----------
const iColors = ['#000000', '#dcdcdc', '#5b2a9e', '#8e3ab0', '#c97fd0', '#1f6e2e', '#43a04e', '#b4ddb4'];
mk([640, 1100, 656, 305], [745, 1126.7, 1093, 1327.7], 50, 90, {
  type: 'bar',
  data: { labels: iLabels, datasets: [
    { data: iMean, backgroundColor: iColors, borderColor: '#222', borderWidth: 2, borderSkipped: false,
      barPercentage: 0.8, categoryPercentage: 1, errUp: iErr, errColor: '#000', capW: 8, errWidth: 2 }
  ] },
  plugins: [errorBars, brackets],
  options: {
    scales: { x: catX(iLabels, 17, 6, 2), y: numY(0, 1, 0.2, 1, 15, 6, 2) },
    plugins: { brackets: {
      gsize: 17, ssize: 14,
      groups: [{ x0: 1.74, x1: 4.4, y: 0.925, ty: 0.98, text: 'WNV' }, { x0: 4.52, x1: 7.17, y: 0.925, ty: 0.98, text: 'ZIKV' }],
      sig: [{ a: 3, b: [4], top: 0.781, drop: 0.731, text: '***', tx: 3.5, ty: 0.81 },
            { a: 6, b: [7], top: 0.781, drop: 0.731, text: '**', tx: 6.5, ty: 0.81 }]
    } }
  }
});
letter('I', 621, 1068);
txt(911, 1088, 'HBMEC TEER', 18);
txt(690, 1227, 'TEER-AUC', 18, true);

// ---------- Panel H ----------
const hOpt = err => ({ errors: err, capW: 7, errWidth: 2, borderWidth: 2.5, pointRadius: 5.5 });
mk([0, 1420, 640, 380], [124.6, 1471.7, 451, 1690.7], 55, 95, {
  type: 'line',
  data: { labels: hLabels, datasets: [
    ser('DENV NS1', null, hDENV, '#1a3cff', 'circle', hOpt(hDENVErr)),
    ser('WNV NS1', null, hWNV, '#8d1d8d', 'rect', Object.assign(hOpt(hWNVErr), { pointRadius: 6.5 })),
    ser('ZIKV NS1', null, hZIKV, '#2b7a2b', 'triangle', hOpt(hZIKVErr))
  ] },
  plugins: [errorBars, lineLegend],
  options: {
    scales: { x: catX(hLabels, 18, 6, 2.5), y: numY(0, 150, 50, 0, 16, 6, 2.5) },
    plugins: { lineLegend: { x0: 451, x1: 477, xt: 489, y0: 1565, dy: 19.5, size: 17 } }
  }
});
letter('H', 2, 1405);
txt(289, 1435, 'FV NS1 Cell Binding', 19);
txt(289, 1755, '2B7 concentration (μg/mL)', 20);
txt(63, 1582, '% Nomalized NS1 Binding', 20, true);

// ---------- Panel J ----------
const jOpt = err => ({ errors: err, capW: 6, errWidth: 2, borderWidth: 2.5, pointRadius: 5.5, spanGaps: true });
mk([640, 1420, 656, 380], [755, 1464, 1164.4, 1686.7], 55, 110, {
  type: 'line',
  data: { labels: jLabels, datasets: [
    ser('DENV NS1', null, jDENV, '#1d3fff', 'circle', jOpt(jDENVErr)),
    ser('WNV NS1', null, jWNV, '#9b3dc3', 'rect', Object.assign(jOpt(jWNVErr), { pointRadius: 6.5 })),
    ser('ZIKV NS1', null, jZIKV, '#2a7b2a', 'triangle', jOpt(jZIKVErr))
  ] },
  plugins: [errorBars, lineLegend],
  options: {
    scales: { x: catX(jLabels, 16, 6, 2.5), y: numY(0, 2, 0.5, 1, 17, 6, 2.5) },
    plugins: { lineLegend: { x0: 1089, x1: 1112, xt: 1123, y0: 1526, dy: 23.7, size: 17 } }
  }
});
letter('J', 626, 1410);
txt(948, 1442, 'TEER', 18);
txt(896, 1753, '2B7 concentration (μg/mL)', 19);
txt(693, 1572, 'TEER AUC (negative peaks)', 19, true);
</script>
</body>
</html>
